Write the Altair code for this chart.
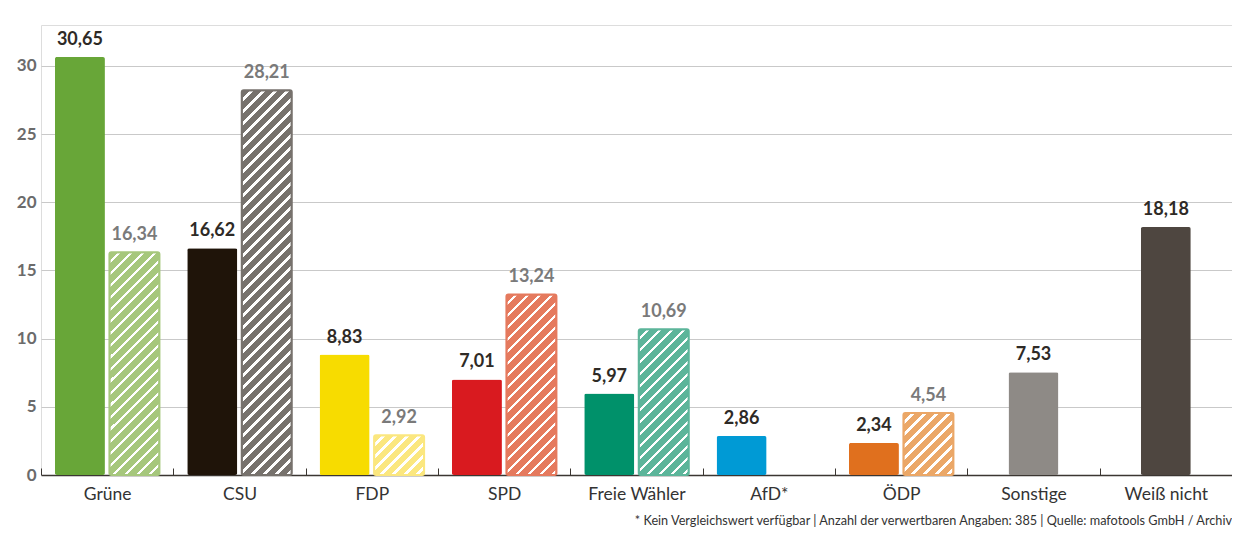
import altair as alt
import pandas as pd

# ---------------- data ----------------
parties = ["Grüne", "CSU", "FDP", "SPD", "Freie Wähler", "AfD*", "ÖDP", "Sonstige", "Weiß nicht"]
current = [30.65, 16.62, 8.83, 7.01, 5.97, 2.86, 2.34, 7.53, 18.18]
previous = [16.34, 28.21, 2.92, 13.24, 10.69, None, 4.54, None, None]
single = [False, False, False, False, False, False, False, True, True]
colors_current = ["#68a638", "#1f1409", "#f7dc00", "#d91a1f", "#00916a", "#009ad5", "#e0701e", "#8e8a86", "#4e4640"]
colors_previous = ["#a6c77c", "#77726d", "#fbe77f", "#e57a5e", "#5cb59a", None, "#eba767", None, None]
y_ticks = [0, 5, 10, 15, 20, 25, 30]
footer = "* Kein Vergleichswert verfügbar | Anzahl der verwertbaren Angaben: 385 | Quelle: mafotools GmbH / Archiv"

# ---------------- layout / style ----------------
W, H = 1191, 450
YMAX = 33
BAR_W = 50
STRIPE_P = 12.0
STRIPE_WHITE = 3.6
FONT = "Lato"


def fmt(v):
    return f"{v:.2f}".replace(".", ",")


rows = []
for i, p in enumerate(parties):
    rows.append(dict(party=p, series="neu", value=current[i], label=fmt(current[i]),
                     color=colors_current[i], single=single[i], kind="cur"))
    if previous[i] is not None:
        rows.append(dict(party=p, series="alt", value=previous[i], label=fmt(previous[i]),
                         color=colors_previous[i], single=single[i], kind="prev"))
df = pd.DataFrame(rows)

x_enc = alt.X("party:N", sort=parties,
              scale=alt.Scale(domain=parties, paddingInner=0, paddingOuter=0),
              axis=alt.Axis(title=None, labelFont=FONT, labelFontSize=17.5, labelColor="#333333",
                            labelPadding=10, ticks=False, domainColor="#3b3632", domainWidth=1.5,
                            grid=True, tickBand="extent", gridColor="#3b3632", gridWidth=1,
                            gridDash=[0, 443, 7, 1000], labelAngle=0))
y_enc = alt.Y("value:Q", scale=alt.Scale(domain=[0, YMAX], nice=False),
              axis=alt.Axis(title=None, values=y_ticks, labelFont=FONT, labelFontSize=17,
                            labelFontWeight="bold", labelColor="#6b6b6b", labelPadding=5,
                            ticks=False, domain=False, grid=True, gridColor="#c9c9c9",
                            gridWidth=1, minExtent=33, maxExtent=33))
xo_enc = alt.XOffset("series:N", scale=alt.Scale(domain=["neu", "alt"],
                                                   paddingInner=0.0826, paddingOuter=0.255))

base = alt.Chart(df)


def hatch(color, value):
    w = BAR_W
    h = value * H / YMAX
    L = w + h
    s = w * L / (w * w + h * h)
    stops = []
    pos = 0.0
    while pos < L:
        c_end = pos + STRIPE_P - STRIPE_WHITE
        stops.append((pos, color))
        stops.append((min(c_end, L), color))
        if c_end < L:
            stops.append((c_end, "#ffffff"))
            stops.append((min(pos + STRIPE_P, L), "#ffffff"))
        pos += STRIPE_P
    return {
        "gradient": "linear",
        "x1": 0, "y1": 0, "x2": s, "y2": s * h / w,
        "stops": [{"offset": round(o / L, 5), "color": c} for o, c in stops],
    }


layers = []

# solid bars of grouped parties
layers.append(
    base.transform_filter("datum.kind == 'cur' && !datum.single")
    .mark_bar(cornerRadius=2)
    .encode(x=x_enc, xOffset=xo_enc, y=y_enc, color=alt.Color("color:N", scale=None))
)

# hatched bars (previous values)
for i, p in enumerate(parties):
    if previous[i] is None:
        continue
    layers.append(
        base.transform_filter(f"datum.kind == 'prev' && datum.party == '{p}'")
        .mark_bar(cornerRadius=2, fill=hatch(colors_previous[i], previous[i]),
                  stroke=colors_previous[i], strokeWidth=2)
        .encode(x=x_enc, xOffset=xo_enc, y=y_enc)
    )

# single centered bars
layers.append(
    base.transform_filter("datum.single")
    .mark_bar(cornerRadius=2, width=BAR_W)
    .encode(x=x_enc, y=y_enc, color=alt.Color("color:N", scale=None))
)

# labels
layers.append(
    base.transform_filter("datum.kind == 'cur' && !datum.single")
    .mark_text(font=FONT, fontSize=18, fontWeight="bold", color="#2e2a26", dy=-12,
               baseline="alphabetic")
    .encode(x=x_enc, xOffset=xo_enc, y=y_enc, text="label:N")
)
layers.append(
    base.transform_filter("datum.kind == 'prev'")
    .mark_text(font=FONT, fontSize=18, fontWeight="bold", color="#7a7a7a", dy=-12,
               baseline="alphabetic")
    .encode(x=x_enc, xOffset=xo_enc, y=y_enc, text="label:N")
)
layers.append(
    base.transform_filter("datum.single")
    .mark_text(font=FONT, fontSize=18, fontWeight="bold", color="#2e2a26", dy=-12,
               baseline="alphabetic")
    .encode(x=x_enc, y=y_enc, text="label:N")
)

chart = (
    alt.layer(*layers)
    .properties(
        width=W, height=H,
        padding={"left": 0, "top": 17, "right": 0, "bottom": 0},
        title=alt.TitleParams(text=footer, orient="bottom", anchor="end", fontSize=12.7,
                              font=FONT, fontWeight="normal", color="#333333", offset=12),
    )
    .configure_view(stroke=None)
    .configure(background="#ffffff")
)

chart.save("out.html", embed_options={"renderer": "svg", "actions": False})
